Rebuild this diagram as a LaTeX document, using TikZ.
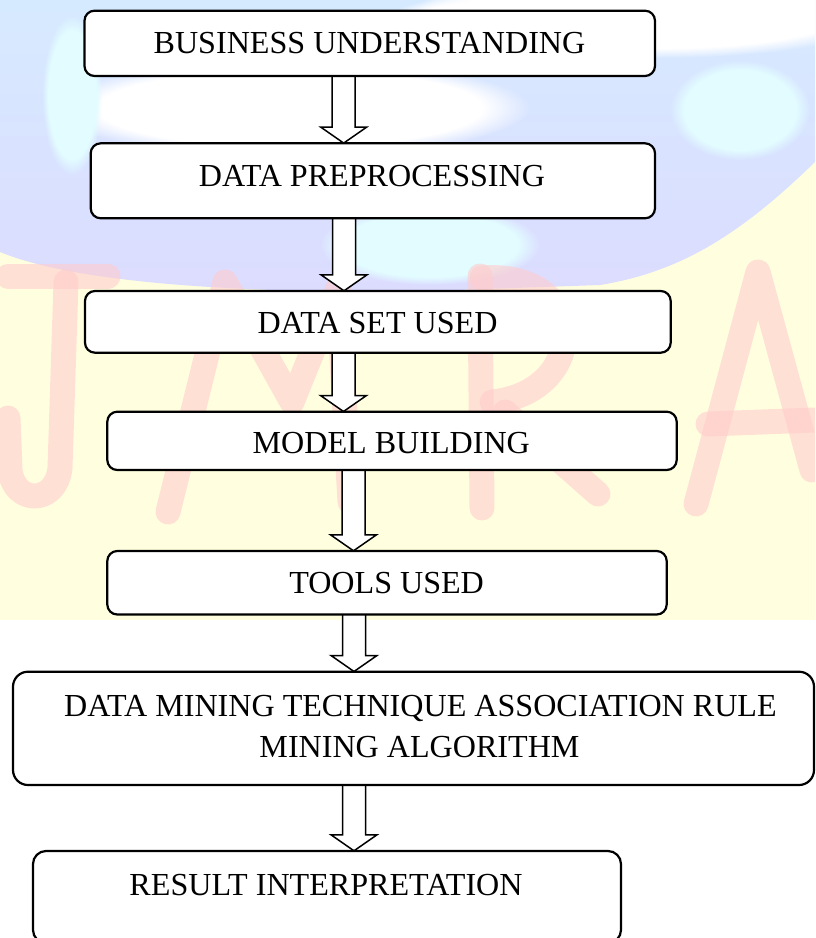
\documentclass[tikz,border=0pt]{standalone}
\usepackage{fontspec}
\setmainfont{Liberation Serif}
\usetikzlibrary{fadings}
\definecolor{wmpink}{HTML}{FFCCCC}
\definecolor{wmyellow}{HTML}{FFFFE0}
\definecolor{wmblue}{HTML}{D6EAFF}
\definecolor{wmlav}{HTML}{DCDCFF}
\definecolor{wmcyan}{HTML}{E2FCFF}
\tikzset{
  flowbox/.style={draw=black, line width=2.2pt, fill=white, rounded corners=10pt, inner sep=0pt},
  flowtxt/.style={inner sep=0pt, anchor=base, font=\fontsize{32.1}{38}\selectfont},
  flowarrow/.style={draw=black, line width=1.5pt, fill=white, line join=miter},
  wmstroke/.style={draw=wmpink, line width=25pt, line cap=round, line join=round, opacity=.6},
  softblob/.style={path fading=circle with fuzzy edge 20 percent}
}
\newcommand\flowarr[3]{%
  \draw[flowarrow] ([xshift=-11.5pt]#1.south -| #3)
    -- ([xshift=-11.5pt,yshift=16pt]#2.north -| #3)
    -- ([xshift=-23pt,yshift=16pt]#2.north -| #3)
    -- (#2.north -| #3)
    -- ([xshift=23pt,yshift=16pt]#2.north -| #3)
    -- ([xshift=11.5pt,yshift=16pt]#2.north -| #3)
    -- ([xshift=11.5pt]#1.south -| #3);}
\begin{document}
\begin{tikzpicture}[x=1pt,y=-1pt]
\useasboundingbox (0,0) rectangle (815,938);
\begin{scope}
\clip (0,0) rectangle (815,938);
% ---------- watermark background ----------
\fill[white] (0,0) rectangle (815,938);
\fill[wmyellow] (0,140) rectangle (815,620);
\shade[top color=wmblue, bottom color=wmlav]
  (0,0) -- (815,0) -- (815,162)
  .. controls (740,235) and (680,272) .. (600,285)
  -- (400,292) .. controls (250,292) and (80,285) .. (0,252) -- cycle;
\fill[white, softblob] (290,108) ellipse [x radius=240, y radius=48];
\fill[white, softblob] (660,8) ellipse [x radius=240, y radius=50];
\fill[white, softblob] (480,35) ellipse [x radius=110, y radius=40];
\fill[wmcyan, softblob] (430,245) ellipse [x radius=110, y radius=40];
\fill[wmcyan, softblob] (72,95) ellipse [x radius=30, y radius=80];
\fill[wmcyan, softblob] (740,110) ellipse [x radius=70, y radius=50];
% letters
\draw[wmstroke] (8,276) -- (108,276);
\draw[wmstroke] (66,282) -- (60,468) .. controls (56,505) and (14,505) .. (10,470) -- (8,418);
\draw[wmstroke] (168,512) -- (225,282) -- (292,402) -- (338,288) -- (350,502);
\draw[wmstroke] (480,276) -- (482,508);
\draw[wmstroke] (482,278) .. controls (590,270) and (590,392) .. (492,402);
\draw[wmstroke] (505,412) -- (598,494);
\draw[wmstroke] (696,504) -- (758,272) -- (812,470);
\draw[wmstroke] (708,424) -- (815,420);
% ---------- arrow axes ----------
\coordinate (ax1) at (343.7,0);
\coordinate (ax2) at (344,0);
\coordinate (ax3) at (343.5,0);
\coordinate (ax4) at (353.5,0);
\coordinate (ax5) at (354,0);
\coordinate (ax6) at (354,0);
% ---------- box positions ----------
\path
  (369.75,43.35) node[inner sep=0pt, minimum width=570.5pt, minimum height=65.3pt] (b1) {}
  (372.85,180.8) node[inner sep=0pt, minimum width=564.3pt, minimum height=75pt] (b2) {}
  (377.85,321.85) node[inner sep=0pt, minimum width=585.7pt, minimum height=61.7pt] (b3) {}
  (392,440.85) node[inner sep=0pt, minimum width=569.4pt, minimum height=58.3pt] (b4) {}
  (387,582.75) node[inner sep=0pt, minimum width=559.4pt, minimum height=63.5pt] (b5) {}
  (413.5,728.35) node[inner sep=0pt, minimum width=801pt, minimum height=113.3pt] (b6) {}
  (327,897) node[inner sep=0pt, minimum width=588pt, minimum height=92pt] (b7) {};
% ---------- arrows ----------
\flowarr{b1}{b2}{ax1}
\flowarr{b2}{b3}{ax2}
\flowarr{b3}{b4}{ax3}
\flowarr{b4}{b5}{ax4}
\flowarr{b5}{b6}{ax5}
\flowarr{b6}{b7}{ax6}
% ---------- boxes drawn ----------
\node[flowbox, minimum width=570.5pt, minimum height=65.3pt] (d1) at (b1) {};
\node[flowbox, minimum width=564.3pt, minimum height=75pt] (d2) at (b2) {};
\node[flowbox, minimum width=585.7pt, minimum height=61.7pt] (d3) at (b3) {};
\node[flowbox, minimum width=569.4pt, minimum height=58.3pt] (d4) at (b4) {};
\node[flowbox, minimum width=559.4pt, minimum height=63.5pt] (d5) at (b5) {};
\node[flowbox, minimum width=801pt, minimum height=113.3pt, rounded corners=15pt] (d6) at (b6) {};
\node[flowbox, minimum width=588pt, minimum height=92pt, rounded corners=13pt] (d7) at (b7) {};
% ---------- texts ----------
\node[flowtxt] (t1) at (369.5,53) {BUSINESS UNDERSTANDING};
\node[flowtxt] (t2) at (372,186) {DATA PREPROCESSING};
\node[flowtxt] (t3) at (377.5,333) {DATA SET USED};
\node[flowtxt] (t4) at (391.3,453) {MODEL BUILDING};
\node[flowtxt] (t5) at (386.6,593.3) {TOOLS USED};
\node[flowtxt] (t6a) at (420.5,716.7) {DATA MINING TECHNIQUE ASSOCIATION RULE};
\node[flowtxt] (t6b) at (419.5,757.3) {MINING ALGORITHM};
\node[flowtxt] (t7) at (326,895) {RESULT INTERPRETATION};
\end{scope}
\end{tikzpicture}
\end{document}
